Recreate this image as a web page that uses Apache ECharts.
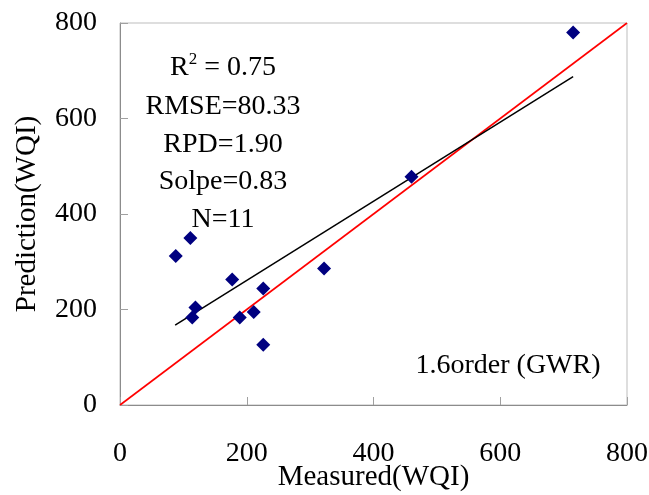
<!DOCTYPE html>
<html><head><meta charset="utf-8">
<script src="https://cdn.jsdelivr.net/npm/echarts@6/dist/echarts.min.js"></script>
<style>html,body{margin:0;padding:0;background:#fff}#c{width:649px;height:495px}</style>
</head><body><div id="c"></div>
<script>
const measured  = [88, 111, 119, 114, 177, 189, 211, 226, 226, 322, 460, 715];
const predicted = [312, 350, 204, 183, 263, 183, 195, 244, 126, 286, 478, 780];
const fitX = [87, 715];
const fitY = [167.5, 687.6];
const oneToOneX = [0, 800];
const oneToOneY = [0, 800];
const axisTicks = [0, 200, 400, 600, 800];
const stats = ['RMSE=80.33', 'RPD=1.90', 'Solpe=0.83', 'N=11'];
const modelLabel = '1.6order (GWR)';

const FONT = '"Liberation Serif", "Times New Roman", serif';
const chart = echarts.init(document.getElementById('c'), null, {renderer: 'canvas'});
const zip = (a, b) => a.map((v, i) => [v, b[i]]);

const axisCommon = {
  type: 'value', min: axisTicks[0], max: axisTicks[axisTicks.length - 1],
  interval: axisTicks[1] - axisTicks[0],
  splitLine: {show: false},
  nameMoveOverlap: false,
  axisLine: {show: true, lineStyle: {color: '#8c8c8c', width: 1}},
  axisTick: {show: true, inside: true, length: 8, lineStyle: {color: '#a0a0a0'}},
  nameTextStyle: {fontFamily: FONT, fontSize: 29, color: '#000'},
};

const statGraphics = stats.map((t, i) => ({
  type: 'text', x: 223, y: 107 + i * 37.5,
  style: {text: t, font: '28px ' + FONT, fill: '#000', textAlign: 'center', textVerticalAlign: 'middle'}
}));

chart.setOption({
  animation: false,
  backgroundColor: '#fff',
  grid: {left: 120, right: 22, top: 23, bottom: 90, containLabel: false, outerBoundsMode: 'none',
    show: true, borderColor: '#bdbdbd', borderWidth: 1},
  xAxis: Object.assign({}, axisCommon, {
    name: 'Measured(WQI)', nameLocation: 'middle', nameGap: 58,
    axisLabel: {fontFamily: FONT, fontSize: 28, color: '#000', margin: 35}
  }),
  yAxis: Object.assign({}, axisCommon, {
    name: 'Prediction(WQI)', nameLocation: 'middle', nameGap: 78,
    axisLabel: {fontFamily: FONT, fontSize: 28, color: '#000', margin: 23}
  }),
  graphic: [
    {type: 'text', x: 223, y: 68,
      style: {text: '{a|R}{s|2}{a| = 0.75}', textAlign: 'center', textVerticalAlign: 'middle',
        rich: {a: {fontFamily: FONT, fontSize: 28, color: '#000'},
               s: {fontFamily: FONT, fontSize: 17, color: '#000', verticalAlign: 'top', padding: [0, 0, 16, 0]}}}},
    ...statGraphics,
    {type: 'text', x: 508, y: 366,
      style: {text: modelLabel, font: '28px ' + FONT, fill: '#000', textAlign: 'center', textVerticalAlign: 'middle'}}
  ],
  series: [
    {type: 'line', data: zip(oneToOneX, oneToOneY), symbol: 'none', lineStyle: {color: '#ff0000', width: 1.6}, z: 2},
    {type: 'line', data: zip(fitX, fitY), symbol: 'none', lineStyle: {color: '#000', width: 1.5}, z: 3},
    {type: 'scatter', data: zip(measured, predicted), symbol: 'diamond', symbolSize: [14, 14],
      itemStyle: {color: '#000080', opacity: 1}, z: 4}
  ]
});
</script></body></html>
